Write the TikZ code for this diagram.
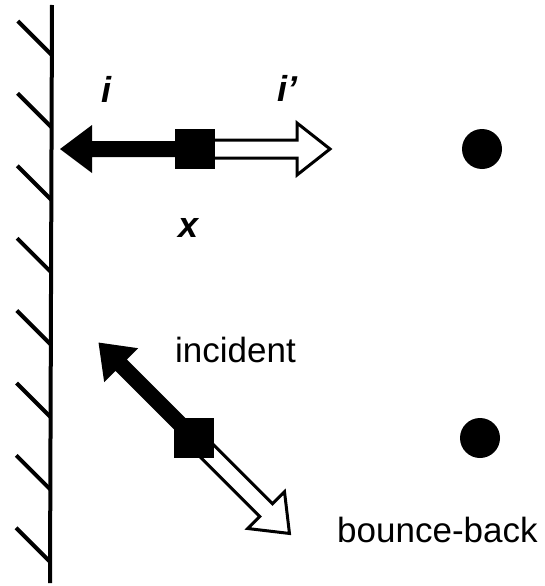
\documentclass[tikz,border=0pt]{standalone}
\usepackage{fontspec}
\setmainfont{Liberation Sans}
\begin{document}
\begin{tikzpicture}[x=1pt,y=-1pt,
  wall/.style={line width=4pt},
  hatch/.style={line width=4pt},
  blkarrow/.style={fill=black},
  whtarrow/.style={fill=white,draw=black,line width=3pt,line join=miter},
  sqbox/.style={fill=black,minimum size=40pt,inner sep=0pt,draw=none},
  bigdot/.style={circle,fill=black,minimum size=40pt,inner sep=0pt},
  lbl/.style={font=\fontsize{35}{40}\selectfont,inner sep=0pt,anchor=base west},
  ilbl/.style={font=\fontsize{36}{40}\selectfont\bfseries\itshape,inner sep=0pt,anchor=base west}]
\useasboundingbox (0,0) rectangle (545,586);
% wall
\coordinate (wtop) at (52,5);
\coordinate (wbot) at (50,583);
\draw[wall] (wtop) -- (wbot);
\foreach \k in {0,...,7}{
  \pgfmathsetmacro\yy{55+72.4*\k}
  \pgfmathsetmacro\xx{52-2*(\yy-5)/578}
  \draw[hatch] (\xx,\yy) -- ++(-34,-34);
}
% top particle
\node[sqbox] (sqA) at (195,149) {};
\begin{scope}[shift={(sqA.center)}]
  \draw[whtarrow] (0,-9) -- (102,-9) -- (102,-26) -- (135,0) -- (102,26) -- (102,9) -- (0,9) -- cycle;
  \fill[blkarrow] (0,-8) -- (-103,-8) -- (-103,-24) -- (-135,0) -- (-103,24) -- (-103,8) -- (0,8) -- cycle;
\end{scope}
\node[sqbox] at (sqA.center) {};
% bottom particle
\node[sqbox] (sqB) at (194,438) {};
\begin{scope}[shift={(sqB.center)},rotate=-45]
  \draw[whtarrow] (0,-9) -- (102,-9) -- (102,-26) -- (135,0) -- (102,26) -- (102,9) -- (0,9) -- cycle;
  \fill[blkarrow] (0,-8) -- (-103,-8) -- (-103,-24) -- (-135,0) -- (-103,24) -- (-103,8) -- (0,8) -- cycle;
\end{scope}
\node[sqbox] at (sqB.center) {};
% dots
\node[bigdot] (dotA) at (482,149) {};
\node[bigdot] (dotB) at (480,438) {};
% labels
\node[ilbl] (li) at (101,102) {i};
\node[ilbl] (lip) at (277,101) {i’};
\node[ilbl] (lx) at (178,237) {x};
\node[lbl] (linc) at (175,362) {incident};
\node[lbl] (lbb) at (337,542) {bounce-back};
\end{tikzpicture}
\end{document}
